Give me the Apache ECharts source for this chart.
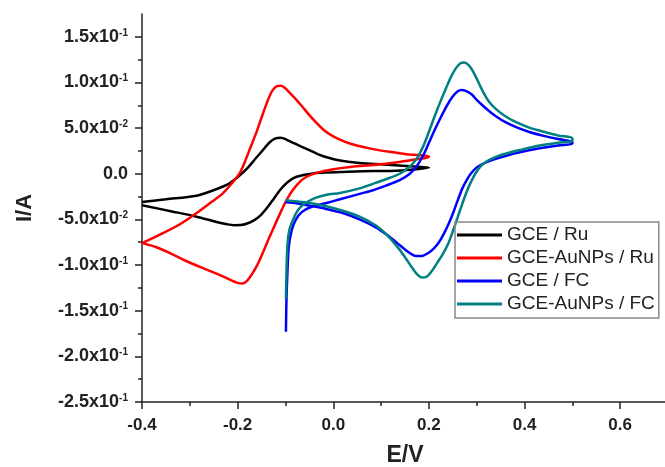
<!DOCTYPE html>
<html>
<head>
<meta charset="utf-8">
<script src="https://cdn.jsdelivr.net/npm/echarts@6/dist/echarts.min.js"></script>
<style>
  html, body { margin: 0; padding: 0; background: #fff; }
  #main { width: 665px; height: 467px; }
</style>
</head>
<body>
<div id="main"></div>
<script>
// series names
const seriesNames = ['GCE / Ru', 'GCE-AuNPs / Ru', 'GCE / FC', 'GCE-AuNPs / FC'];
const seriesColors = ['#000000', '#ff0000', '#0000ff', '#008080'];

// major ticks of the current axis
const yTicks = [-0.25, -0.2, -0.15, -0.1, -0.05, 0, 0.05, 0.1, 0.15];

// GCE / Ru  [E (V), I (A)]
const gceRu = [
  [-0.4, -0.031], [-0.35, -0.028], [-0.286, -0.024], [-0.25, -0.018], [-0.217, -0.0105],
  [-0.196, -0.002], [-0.178, 0.007], [-0.162, 0.017], [-0.147, 0.026], [-0.134, 0.034],
  [-0.122, 0.0385], [-0.11, 0.0395], [-0.098, 0.0375], [-0.085, 0.034], [-0.07, 0.0305],
  [-0.05, 0.026], [-0.03, 0.021], [-0.01, 0.0175], [0.014, 0.0145], [0.05, 0.012],
  [0.09, 0.0106], [0.153, 0.0084], [0.2, 0.0066],
  [0.2, 0.0062], [0.153, 0.004], [0.118, 0.003], [0.083, 0.003], [0.014, 0.002],
  [-0.007, 0.0015], [-0.042, 0.0004], [-0.077, -0.0033], [-0.095, -0.009], [-0.11, -0.017],
  [-0.124, -0.027], [-0.138, -0.037], [-0.152, -0.0455], [-0.166, -0.051], [-0.18, -0.0545],
  [-0.194, -0.0562], [-0.208, -0.0563], [-0.222, -0.0553], [-0.244, -0.0528], [-0.286, -0.047],
  [-0.335, -0.0415], [-0.4, -0.0345]
];

// GCE-AuNPs / Ru
const auRu = [
  [-0.4, -0.076], [-0.356, -0.065], [-0.32, -0.055], [-0.286, -0.043], [-0.255, -0.031],
  [-0.231, -0.0215], [-0.213, -0.011], [-0.196, 0.0004], [-0.185, 0.013], [-0.173, 0.029],
  [-0.161, 0.045], [-0.149, 0.063], [-0.138, 0.079], [-0.128, 0.0905], [-0.118, 0.096],
  [-0.109, 0.0965], [-0.1, 0.0935], [-0.09, 0.088], [-0.077, 0.081], [-0.06, 0.0705],
  [-0.042, 0.0595], [-0.02, 0.048], [0.0, 0.041], [0.025, 0.035], [0.049, 0.031],
  [0.083, 0.027], [0.118, 0.024], [0.153, 0.0215], [0.2, 0.0194],
  [0.2, 0.0185], [0.174, 0.0158], [0.118, 0.0115], [0.07, 0.009], [0.035, 0.0075],
  [0.0, 0.005], [-0.035, 0.001], [-0.055, -0.003], [-0.07, -0.0088], [-0.085, -0.018],
  [-0.098, -0.029], [-0.11, -0.042], [-0.122, -0.056], [-0.134, -0.07], [-0.146, -0.085],
  [-0.158, -0.099], [-0.17, -0.11], [-0.18, -0.117], [-0.19, -0.1202], [-0.2, -0.1195],
  [-0.212, -0.117], [-0.231, -0.1125], [-0.26, -0.106], [-0.286, -0.1005], [-0.31, -0.095],
  [-0.335, -0.0885], [-0.37, -0.0805], [-0.4, -0.076]
];

// GCE / FC
const gceFc = [
  [-0.099, -0.173], [-0.098, -0.14], [-0.096, -0.11], [-0.093, -0.08], [-0.087, -0.062],
  [-0.078, -0.05], [-0.066, -0.042], [-0.049, -0.037], [-0.014, -0.032], [0.014, -0.028],
  [0.055, -0.022], [0.083, -0.018], [0.11, -0.013], [0.139, -0.007], [0.16, 0.0],
  [0.174, 0.008], [0.188, 0.02], [0.2, 0.034], [0.213, 0.049], [0.226, 0.063],
  [0.238, 0.075], [0.249, 0.084], [0.259, 0.0898], [0.268, 0.0917], [0.278, 0.0905],
  [0.289, 0.087], [0.3, 0.081], [0.312, 0.075], [0.325, 0.069], [0.34, 0.063],
  [0.36, 0.0565], [0.385, 0.0505], [0.41, 0.0458], [0.44, 0.0415], [0.47, 0.038],
  [0.5, 0.035],
  [0.5, 0.033], [0.47, 0.031], [0.432, 0.028], [0.39, 0.0235], [0.36, 0.0195],
  [0.335, 0.0155], [0.315, 0.0115], [0.3, 0.007], [0.289, 0.001], [0.279, -0.007],
  [0.27, -0.016], [0.261, -0.028], [0.252, -0.041], [0.242, -0.054], [0.232, -0.065],
  [0.221, -0.075], [0.21, -0.082], [0.198, -0.087], [0.186, -0.09], [0.174, -0.0902],
  [0.162, -0.0875], [0.15, -0.083], [0.135, -0.0765], [0.115, -0.068], [0.09, -0.059],
  [0.055, -0.05], [0.02, -0.043], [-0.015, -0.0385], [-0.049, -0.035], [-0.075, -0.0325],
  [-0.1, -0.031]
];

// GCE-AuNPs / FC
const auFc = [
  [-0.099, -0.137], [-0.098, -0.11], [-0.096, -0.08], [-0.092, -0.062], [-0.084, -0.05],
  [-0.074, -0.04], [-0.063, -0.034], [-0.04, -0.027], [-0.014, -0.023], [0.014, -0.021],
  [0.055, -0.016], [0.083, -0.011], [0.11, -0.006], [0.139, 0.0], [0.16, 0.008],
  [0.174, 0.016], [0.188, 0.03], [0.2, 0.046], [0.212, 0.063], [0.224, 0.079],
  [0.236, 0.094], [0.247, 0.107], [0.257, 0.116], [0.266, 0.121], [0.274, 0.1218],
  [0.283, 0.119], [0.292, 0.1125], [0.302, 0.102], [0.313, 0.09], [0.325, 0.0795],
  [0.341, 0.0705], [0.36, 0.063], [0.38, 0.057], [0.41, 0.0505], [0.44, 0.046],
  [0.47, 0.042], [0.5, 0.039],
  [0.5, 0.036], [0.47, 0.034], [0.432, 0.031], [0.39, 0.026], [0.36, 0.022],
  [0.34, 0.0185], [0.322, 0.014], [0.308, 0.008], [0.297, 0.0], [0.287, -0.01],
  [0.278, -0.021], [0.269, -0.034], [0.26, -0.048], [0.25, -0.063], [0.24, -0.077],
  [0.229, -0.088], [0.218, -0.097], [0.207, -0.106], [0.196, -0.1125], [0.186, -0.1137],
  [0.176, -0.1105], [0.165, -0.103], [0.152, -0.093], [0.137, -0.082], [0.115, -0.0685],
  [0.09, -0.057], [0.055, -0.047], [0.02, -0.0405], [-0.015, -0.0355], [-0.049, -0.032],
  [-0.075, -0.0305], [-0.1, -0.029]
];

const allData = [gceRu, auRu, gceFc, auFc];

const font = "'Liberation Sans', Arial, sans-serif";

// y tick label like 1.5x10^-1
function sciLabel(v) {
  v = Math.round(v * 1e6) / 1e6;
  if (v === 0) return '0.0';
  let exp = Math.floor(Math.log10(Math.abs(v)) + 1e-9);
  let man = (v / Math.pow(10, exp)).toFixed(1);
  return man + 'x10{sup|' + exp + '}';
}

let myChart = echarts.init(document.getElementById('main'));
let option = {
  animation: false,
  backgroundColor: '#fff',
  textStyle: { fontFamily: font },
  grid: {
    left: 142, top: 14, right: -3, bottom: 65,
    containLabel: false,
    outerBoundsMode: 'none'
  },
  legend: {
    data: seriesNames,
    orient: 'vertical',
    left: 455, top: 222,
    padding: [3, 4, 4, 2],
    borderColor: '#888',
    borderWidth: 1.5,
    icon: 'rect',
    itemWidth: 45,
    itemHeight: 3,
    itemGap: 3,
    itemTextGap: 5,
    textStyle: { fontFamily: font, fontSize: 19, color: '#222', lineHeight: 20 }
  },
  xAxis: {
    type: 'value',
    min: -0.4, max: 0.7, interval: 0.2,
    name: 'E/V',
    nameLocation: 'middle',
    nameGap: 42,
    nameTextStyle: { fontFamily: font, fontSize: 23, fontWeight: 'bold', color: '#222' },
    axisLine: { onZero: false, lineStyle: { color: '#222', width: 1.5 } },
    axisTick: { inside: false, length: 7, lineStyle: { color: '#222', width: 1.5 } },
    minorTick: { show: true, splitNumber: 2, length: 4, lineStyle: { color: '#222', width: 1.5 } },
    splitLine: { show: false },
    axisLabel: {
      margin: 15, showMaxLabel: false,
      fontFamily: font, fontSize: 17, fontWeight: 'bold', color: '#222',
      formatter: v => (Math.round(v * 10) / 10).toFixed(1)
    }
  },
  yAxis: {
    type: 'value',
    min: -0.25, max: 0.175, interval: 0.05,
    name: 'I/A',
    nameLocation: 'middle',
    nameGap: 106,
    nameTextStyle: { fontFamily: font, fontSize: 22, fontWeight: 'bold', color: '#222' },
    axisLine: { onZero: false, lineStyle: { color: '#222', width: 1.5 } },
    axisTick: { inside: false, length: 7, customValues: yTicks, lineStyle: { color: '#222', width: 1.5 } },
    minorTick: { show: true, splitNumber: 2, length: 4, lineStyle: { color: '#222', width: 1.5 } },
    splitLine: { show: false },
    axisLabel: {
      margin: 14, customValues: yTicks,
      fontFamily: font, fontSize: 18, fontWeight: 'bold', color: '#222',
      formatter: sciLabel,
      rich: {
        sup: { fontFamily: font, fontSize: 10, fontWeight: 'bold', color: '#222', verticalAlign: 'top', padding: [0, 0, 8, 0] }
      }
    }
  },
  series: seriesNames.map((name, i) => ({
    name: name,
    type: 'line',
    data: allData[i],
    symbol: 'none',
    smooth: 0.3,
    lineStyle: { color: seriesColors[i], width: 2.5 },
    itemStyle: { color: seriesColors[i] }
  }))
};
myChart.setOption(option);
</script>
</body>
</html>
